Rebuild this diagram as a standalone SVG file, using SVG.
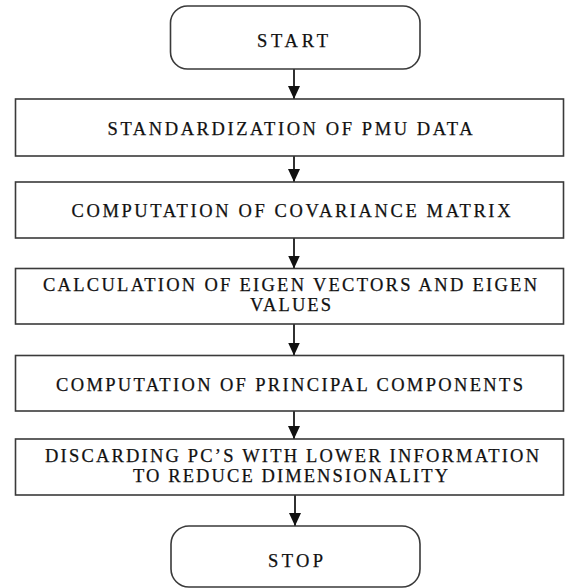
<svg xmlns="http://www.w3.org/2000/svg" width="565" height="588" viewBox="0 0 565 588">
  <style>
    .box { fill: #ffffff; stroke: #3a3a3a; stroke-width: 1.6; }
    .lbl { font-family: "Liberation Serif", "Times New Roman", serif; font-size: 18.5px; fill: #111111; stroke: #111111; stroke-width: 0.25; text-anchor: middle; }
    .wire { stroke: #1a1a1a; stroke-width: 1.8; fill: none; }
  </style>
  <defs>
    <marker id="arrowhead" markerWidth="14" markerHeight="12" refX="13" refY="6" orient="auto" markerUnits="userSpaceOnUse">
      <path d="M0,0 L13,6 L0,12 Z" fill="#111111"/>
    </marker>
  </defs>

  <rect x="0" y="0" width="565" height="588" fill="#ffffff"/>

  <!-- connectors -->
  <g id="connectors">
    <line class="wire" x1="294" y1="69" x2="294" y2="99" marker-end="url(#arrowhead)"/>
    <line class="wire" x1="294" y1="156" x2="294" y2="182" marker-end="url(#arrowhead)"/>
    <line class="wire" x1="294" y1="238" x2="294" y2="268.5" marker-end="url(#arrowhead)"/>
    <line class="wire" x1="294" y1="324" x2="294" y2="355.5" marker-end="url(#arrowhead)"/>
    <line class="wire" x1="294" y1="411" x2="294" y2="439" marker-end="url(#arrowhead)"/>
    <line class="wire" x1="295" y1="495" x2="295" y2="526" marker-end="url(#arrowhead)"/>
  </g>

  <!-- terminal: start -->
  <g id="start">
    <rect class="box" x="170.5" y="6" width="249.5" height="63" rx="17" ry="17"/>
    <text class="lbl" x="292.5" y="46.5" textLength="71" lengthAdjust="spacing">START</text>
  </g>

  <g id="standardize">
    <rect class="box" x="15.5" y="99" width="548" height="57"/>
    <text class="lbl" x="290" y="135" textLength="365" lengthAdjust="spacing">STANDARDIZATION OF PMU DATA</text>
  </g>

  <g id="covariance">
    <rect class="box" x="15.5" y="182" width="548" height="56"/>
    <text class="lbl" x="291" y="216.5" textLength="439" lengthAdjust="spacing">COMPUTATION OF COVARIANCE MATRIX</text>
  </g>

  <g id="eigen">
    <rect class="box" x="15.5" y="268.5" width="548" height="55.5"/>
    <text class="lbl" x="290" y="291" textLength="494" lengthAdjust="spacing">CALCULATION OF EIGEN VECTORS AND EIGEN</text>
    <text class="lbl" x="290.5" y="311" textLength="81" lengthAdjust="spacing">VALUES</text>
  </g>

  <g id="principal">
    <rect class="box" x="15.5" y="355.5" width="548" height="55.5"/>
    <text class="lbl" x="289.5" y="390.5" textLength="467" lengthAdjust="spacing">COMPUTATION OF PRINCIPAL COMPONENTS</text>
  </g>

  <g id="discard">
    <rect class="box" x="15.5" y="439" width="548" height="56"/>
    <text class="lbl" x="292" y="462" textLength="494" lengthAdjust="spacing">DISCARDING PC’S WITH LOWER INFORMATION</text>
    <text class="lbl" x="290.5" y="482" textLength="315" lengthAdjust="spacing">TO REDUCE DIMENSIONALITY</text>
  </g>

  <!-- terminal: stop -->
  <g id="stop">
    <rect class="box" x="171" y="526" width="249" height="61" rx="18" ry="18"/>
    <text class="lbl" x="295.5" y="566.5" textLength="55" lengthAdjust="spacing">STOP</text>
  </g>
</svg>
